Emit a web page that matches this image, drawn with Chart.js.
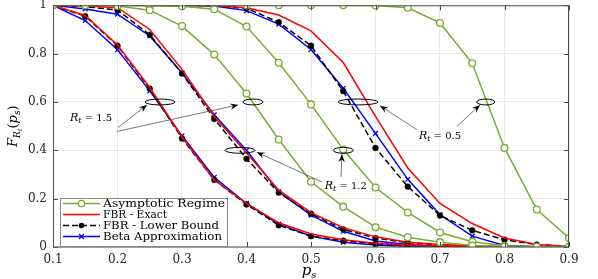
<!DOCTYPE html>
<html><head><meta charset="utf-8">
<script src="https://cdn.jsdelivr.net/npm/chart.js@4/dist/chart.umd.min.js"></script>
<style>html,body{margin:0;padding:0;background:#fff}canvas{display:block}</style>
</head><body>
<canvas id="c" width="598" height="279"></canvas>
<script>
// ---- data ----
const ps = [0.1,0.15,0.2,0.25,0.3,0.35,0.4,0.45,0.5,0.55,0.6,0.65,0.7,0.75,0.8,0.85,0.9];
const xTicks = [0.1,0.2,0.3,0.4,0.5,0.6,0.7,0.8,0.9];
const yTicks = [0,0.2,0.4,0.6,0.8,1];
const seriesNames = ['Asymptotic Regime','FBR - Exact','FBR - Lower Bound','Beta Approximation'];
const rtValues = ['1.5','1.2','0.5'];

// R_t = 1.5
const asym15  = [1,1,0.997,0.98,0.914,0.796,0.635,0.445,0.27,0.167,0.082,0.04,0.02,0.006,0.002,0.001,0];
const exact15 = [1,0.958,0.836,0.66,0.455,0.277,0.18,0.1,0.054,0.03,0.016,0.008,0.004,0.002,0.001,0.0005,0];
const lower15 = [1,0.955,0.833,0.655,0.449,0.278,0.176,0.09,0.045,0.026,0.013,0.006,0.003,0.001,0.0005,0,0];
const beta15  = [1,0.937,0.816,0.646,0.46,0.288,0.18,0.095,0.045,0.02,0.008,0.003,0.001,0,0,0,0];
// R_t = 1.2
const asym12  = [1,1,1,0.998,0.996,0.984,0.912,0.762,0.59,0.403,0.246,0.143,0.06,0.022,0.005,0.001,0];
const exact12 = [1,0.997,0.99,0.9,0.735,0.54,0.39,0.235,0.142,0.08,0.042,0.02,0.01,0.004,0.002,0.001,0];
const lower12 = [1,0.995,0.98,0.878,0.718,0.53,0.365,0.225,0.138,0.073,0.037,0.018,0.008,0.003,0.001,0,0];
const beta12  = [1,0.985,0.963,0.873,0.72,0.547,0.4,0.228,0.132,0.065,0.025,0.01,0.003,0.001,0,0,0];
// R_t = 0.5
const asym05  = [1,1,1,1,1,1,1,1,1,1,0.999,0.99,0.927,0.76,0.41,0.155,0.037];
const exact05 = [1,1,1,1,1,0.998,0.99,0.96,0.894,0.763,0.54,0.327,0.18,0.097,0.037,0.01,0.002];
const lower05 = [1,1,1,1,1,0.998,0.988,0.93,0.833,0.645,0.41,0.25,0.13,0.069,0.03,0.01,0.002];
const beta05  = [1,1,1,1,1,0.997,0.978,0.922,0.817,0.657,0.47,0.28,0.134,0.045,0.006,0.001,0];

// annotations (data coordinates)
const ellipses = [
  {x:0.266,y:0.6,rx:0.0233,ry:0.0122},{x:0.41,y:0.6,rx:0.0155,ry:0.0122},
  {x:0.573,y:0.6,rx:0.031,ry:0.0122},{x:0.771,y:0.6,rx:0.014,ry:0.0122},
  {x:0.39,y:0.4,rx:0.0233,ry:0.0122},{x:0.55,y:0.4,rx:0.0155,ry:0.0122}
];
const arrows = [
  [0.2008,0.494,0.2457,0.588],[0.199,0.478,0.387,0.588],
  [0.664,0.486,0.607,0.584],[0.726,0.498,0.762,0.588],
  [0.517,0.269,0.416,0.392],[0.5465,0.29,0.548,0.384]
];
const labels = [
  {x:0.159,y:0.537,v:rtValues[0]},{x:0.554,y:0.257,v:rtValues[1]},{x:0.7,y:0.465,v:rtValues[2]}
];

// ---- styles ----
const GREEN='#77AC30', RED='#FF0000', BLACK='#000000', BLUE='#0000FF';
const FONT='"DejaVu Serif"';
const toXY = arr => arr.map((v,i)=>({x:ps[i],y:v}));
function ds(kind, arr, idx){
  const base={data:toXY(arr),borderWidth:1.5,tension:0,fill:false,label:seriesNames[kind]+(idx?' '+idx:''),order:0};
  if(kind===0) return Object.assign(base,{borderColor:GREEN,pointStyle:'circle',pointRadius:3.4,pointBorderWidth:1.3,pointBackgroundColor:'#fff',pointBorderColor:GREEN});
  if(kind===1) return Object.assign(base,{borderColor:RED,pointRadius:0});
  if(kind===2) return Object.assign(base,{borderColor:BLACK,borderDash:[6,3],pointStyle:'circle',pointRadius:2.9,pointBackgroundColor:BLACK,pointBorderColor:BLACK,pointBorderWidth:0.5});
  return Object.assign(base,{borderColor:BLUE,pointStyle:'crossRot',pointRadius:3.3,pointBorderWidth:1.3,pointBorderColor:BLUE,pointBackgroundColor:BLUE});
}
const datasets = [
  ds(0,asym15,0),ds(0,asym12,1),ds(0,asym05,2),
  ds(1,exact15,0),ds(1,exact12,1),ds(1,exact05,2),
  ds(2,lower15,0),ds(2,lower12,1),ds(2,lower05,2),
  ds(3,beta15,0),ds(3,beta12,1),ds(3,beta05,2)
];

function rich(ctx, parts, x, y, align){
  let w=0;
  parts.forEach(p=>{ctx.font=(p[2]?'italic ':'')+p[1]+'px '+FONT;p.w=ctx.measureText(p[0]).width;w+=p.w;});
  let cx = align==='center'? x-w/2 : x;
  parts.forEach(p=>{ctx.font=(p[2]?'italic ':'')+p[1]+'px '+FONT;ctx.fillText(p[0],cx,y+(p[3]||0));cx+=p.w;});
  return w;
}
function arrowHead(ctx,x1,y1,x2,y2){
  const a=Math.atan2(y2-y1,x2-x1), L=8, W=3.2;
  ctx.save();ctx.translate(x2,y2);ctx.rotate(a);
  ctx.beginPath();ctx.moveTo(0,0);ctx.lineTo(-L,-W);ctx.lineTo(-L*0.65,0);ctx.lineTo(-L,W);ctx.closePath();
  ctx.fillStyle='#000';ctx.fill();ctx.restore();
}

const deco = {
  id:'deco',
  afterDraw(chart){
    const ctx=chart.ctx, xs=chart.scales.x, ys=chart.scales.y, a=chart.chartArea;
    ctx.save();
    // box + inward ticks
    ctx.strokeStyle='#4d4d4d';ctx.lineWidth=1;
    ctx.strokeRect(a.left+0.5,a.top+0.5,a.right-a.left-1,a.bottom-a.top-0.5);
    ctx.beginPath();
    xTicks.forEach(v=>{const px=Math.round(xs.getPixelForValue(v))+0.5;ctx.moveTo(px,a.bottom);ctx.lineTo(px,a.bottom-5);ctx.moveTo(px,a.top);ctx.lineTo(px,a.top+5);});
    yTicks.forEach(v=>{const py=Math.round(ys.getPixelForValue(v))+0.5;ctx.moveTo(a.left,py);ctx.lineTo(a.left+5,py);ctx.moveTo(a.right,py);ctx.lineTo(a.right-5,py);});
    ctx.stroke();
    // ellipses
    ctx.strokeStyle='#000';ctx.lineWidth=1;
    ellipses.forEach(e=>{
      const cx=xs.getPixelForValue(e.x), cy=ys.getPixelForValue(e.y);
      const rx=Math.abs(xs.getPixelForValue(e.x+e.rx)-cx), ry=Math.abs(ys.getPixelForValue(e.y+e.ry)-cy);
      ctx.beginPath();ctx.ellipse(cx,cy,rx,ry,0,0,Math.PI*2);ctx.stroke();
    });
    // arrows
    arrows.forEach(r=>{
      const x1=xs.getPixelForValue(r[0]),y1=ys.getPixelForValue(r[1]),x2=xs.getPixelForValue(r[2]),y2=ys.getPixelForValue(r[3]);
      ctx.strokeStyle='#555';ctx.lineWidth=0.8;
      ctx.beginPath();ctx.moveTo(x1,y1);ctx.lineTo(x2,y2);ctx.stroke();
      arrowHead(ctx,x1,y1,x2,y2);
    });
    // R_t labels
    ctx.fillStyle='#000';ctx.textBaseline='alphabetic';
    labels.forEach(l=>{
      const px=xs.getPixelForValue(l.x), py=ys.getPixelForValue(l.y)+4;
      rich(ctx,[['R',11,true,0],['t',8,true,2],[' = '+l.v,10,false,0]],px,py,'center');
    });
    // axis titles
    ctx.fillStyle='#000';
    rich(ctx,[['p',15,true,0],['s',10,true,3]],309,275,'center');
    ctx.save();ctx.translate(17,(a.top+a.bottom)/2);ctx.rotate(-Math.PI/2);
    rich(ctx,[['F',13,true,0],['R',9,true,3],['t',6.5,true,5],['(',13,false,0],['p',13,true,0],['s',9,true,3],[')',13,false,0]],0,0,'center');
    ctx.restore();
    // legend
    const lx=60, ly=198, lw=167, lh=48;
    ctx.fillStyle='#fff';ctx.fillRect(lx,ly,lw,lh);
    ctx.strokeStyle='#888';ctx.lineWidth=1;ctx.strokeRect(lx+0.5,ly+0.5,lw,lh);
    const rows=[203.5,214.5,225.5,236.5];
    ctx.font='11px '+FONT;ctx.textBaseline='middle';
    seriesNames.forEach((name,i)=>{
      const y=rows[i], d=datasets[i*3];
      ctx.save();
      ctx.strokeStyle=d.borderColor;ctx.lineWidth=1.5;ctx.setLineDash(d.borderDash||[]);
      ctx.beginPath();ctx.moveTo(63,y);ctx.lineTo(100,y);ctx.stroke();ctx.setLineDash([]);
      if(i===0){ctx.beginPath();ctx.arc(81.5,y,3.2,0,Math.PI*2);ctx.fillStyle='#fff';ctx.fill();ctx.lineWidth=1.3;ctx.stroke();}
      if(i===2){ctx.beginPath();ctx.arc(81.5,y,2.8,0,Math.PI*2);ctx.fillStyle='#000';ctx.fill();}
      if(i===3){ctx.lineWidth=1.3;ctx.beginPath();ctx.moveTo(79,y-2.5);ctx.lineTo(84,y+2.5);ctx.moveTo(84,y-2.5);ctx.lineTo(79,y+2.5);ctx.stroke();}
      ctx.restore();
      ctx.fillStyle='#000';
      const tw=ctx.measureText(name).width;
      const target=[122,64,116,119][i];
      ctx.save();ctx.translate(103,y+0.5);ctx.scale(Math.min(1.25,target/tw),1);ctx.fillText(name,0,0);ctx.restore();
    });
    ctx.restore();
  }
};

new Chart(document.getElementById('c'),{
  type:'line',
  data:{datasets},
  options:{
    responsive:false,animation:false,devicePixelRatio:1,
    layout:{padding:{top:1,right:29,left:0,bottom:0}},
    plugins:{legend:{display:false},tooltip:{enabled:false}},
    scales:{
      x:{type:'linear',min:0.1,max:0.9,
        afterBuildTicks:s=>{s.ticks=xTicks.map(v=>({value:v}));},
        afterFit:s=>{s.height=32;s.paddingLeft=0;s.paddingRight=0;},
        ticks:{padding:6,color:'#262626',font:{family:'DejaVu Serif',size:12},callback:v=>String(v),maxRotation:0,autoSkip:false},
        grid:{color:'#e8e8e8',drawTicks:false,lineWidth:1},border:{display:false}},
      y:{type:'linear',min:0,max:1,
        afterBuildTicks:s=>{s.ticks=yTicks.map(v=>({value:v}));},
        afterFit:s=>{s.width=53;s.paddingTop=0;s.paddingBottom=0;},
        ticks:{padding:6,color:'#262626',font:{family:'DejaVu Serif',size:12},callback:v=>String(v),autoSkip:false},
        grid:{color:'#e8e8e8',drawTicks:false,lineWidth:1},border:{display:false}}
    }
  },
  plugins:[deco]
});
</script>
</body></html>
